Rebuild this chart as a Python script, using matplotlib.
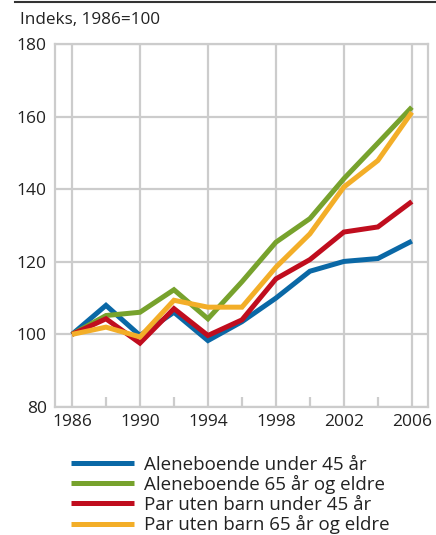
import matplotlib.pyplot as plt
from matplotlib.lines import Line2D

plt.rcParams['font.family'] = ['Open Sans', 'DejaVu Sans']

years = [1986, 1988, 1990, 1992, 1994, 1996, 1998, 2000, 2002, 2004, 2006]

alene_u45 = [100, 108.0, 99.7, 106.1, 98.3, 103.5, 110.0, 117.4, 120.1, 120.9, 125.7]
alene_65 = [100, 105.2, 106.1, 112.3, 104.3, 114.5, 125.4, 131.9, 142.9, 152.7, 162.6]
par_u45 = [100, 104.3, 97.6, 107.1, 99.7, 104.0, 115.3, 120.6, 128.2, 129.6, 136.6]
par_65 = [100, 102.0, 99.3, 109.4, 107.5, 107.5, 118.5, 127.7, 140.6, 147.9, 161.2]

labels = ["Aleneboende under 45 år", "Aleneboende 65 år og eldre",
          "Par uten barn under 45 år", "Par uten barn 65 år og eldre"]
colors = ["#0a68a6", "#77a22d", "#c00d1e", "#f3ae28"]

fig = plt.figure(figsize=(4.36, 5.35), dpi=100)
ax = fig.add_axes([55 / 436, 1 - 407 / 535, 373 / 436, 363 / 535])

grid_c = "#cccccc"
txt_c = "#222222"
series = [alene_u45, alene_65, par_u45, par_65]
handles = []
for vals, lab, col in zip(series, labels, colors):
    h, = ax.plot(years, vals, color=col, lw=3.6, label=lab, solid_joinstyle='miter',
                 solid_capstyle='butt', zorder=3)
    handles.append(h)

ax.set_xlim(1985, 2006.95)
ax.set_ylim(80, 180)
ax.set_xticks([1986, 1990, 1994, 1998, 2002, 2006])
ax.set_xticks([1988, 1992, 1996, 2000, 2004], minor=True)
ax.set_yticks([80, 100, 120, 140, 160, 180])
ax.grid(True, which='major', color=grid_c, lw=1.6)
ax.set_axisbelow(True)
for s in ax.spines.values():
    s.set_color(grid_c)
    s.set_linewidth(1.6)
ax.tick_params(axis='x', which='major', length=0, labelsize=12.5, pad=5, labelcolor=txt_c)
ax.tick_params(axis='x', which='minor', direction='in', length=7, width=1.6, color=grid_c)
ax.tick_params(axis='y', length=0, labelsize=12.5, pad=6, labelcolor=txt_c)

fig.text(20 / 436, 1 - 20 / 535, "Indeks, 1986=100", fontsize=12.3, color=txt_c,
         va='center', ha='left')
fig.add_artist(Line2D([15 / 436, 1], [1 - 1.5 / 535, 1 - 1.5 / 535], color='#333333', lw=1.5))

fig.legend(handles=handles, loc='upper left', bbox_to_anchor=(63 / 436, 1 - 448 / 535),
           frameon=False, fontsize=13.5, handlelength=3.4, handletextpad=0.5,
           labelspacing=0.08, borderaxespad=0, labelcolor=txt_c)

fig.savefig("out.png", dpi=100)
